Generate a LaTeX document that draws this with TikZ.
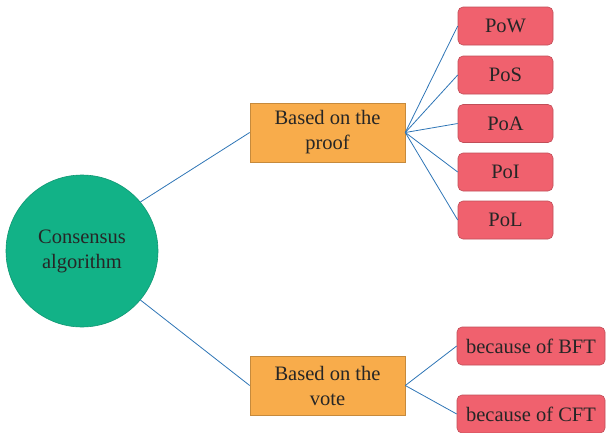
\documentclass[tikz,border=0pt]{standalone}
\usepackage{fontspec}
\setmainfont{Liberation Serif}
\begin{document}
\begin{tikzpicture}[x=1pt,y=-1pt,
  every node/.style={font=\fontsize{20.5}{25}\selectfont, text=black!85, align=center, inner sep=0pt},
  root/.style={circle, fill=rootgreen, draw=rootgreen!85!black, line width=0.6pt, minimum size=152pt},
  branch/.style={rectangle, fill=branchorange, draw=branchorange!80!black, line width=0.6pt, minimum width=155pt, minimum height=59pt},
  leaf/.style={rectangle, rounded corners=5pt, fill=leafred, draw=leafred!80!black, line width=0.6pt, minimum width=95pt, minimum height=38pt},
  wideleaf/.style={leaf, minimum width=148pt},
  link/.style={draw=linkblue, line width=0.8pt}
]
\definecolor{rootgreen}{HTML}{12B287}
\definecolor{branchorange}{HTML}{F8AC4B}
\definecolor{leafred}{HTML}{F0616E}
\definecolor{linkblue}{HTML}{2E75B6}
\useasboundingbox (0,0) rectangle (606,432);

% root
\node[root] (c) at (82,251) {Consensus\\algorithm};

% two branches
\node[branch] (proof) at (327.5,132.5) {Based on the\\proof};
\node[branch] (vote) at (327.5,385.5) {Based on the\\vote};

% proof leaves
\node[leaf] (pow) at (505.5,26) {PoW};
\node[leaf] (pos) at (505.5,75) {PoS};
\node[leaf] (poa) at (505.5,123.5) {PoA};
\node[leaf] (poi) at (505.5,172) {PoI};
\node[leaf] (pol) at (505.5,220) {PoL};

% vote leaves
\node[wideleaf] (bft) at (531,346) {because of BFT};
\node[wideleaf] (cft) at (531,414) {because of CFT};

% connectors
\draw[link] (c.40) -- (proof.west);
\draw[link] (c.-40) -- (vote.west);
\foreach \t in {pow,pos,poa,poi,pol}
  \draw[link] (proof.east) -- (\t.west);
\draw[link] (vote.east) -- (bft.west);
\draw[link] (vote.east) -- (cft.west);
\end{tikzpicture}
\end{document}
